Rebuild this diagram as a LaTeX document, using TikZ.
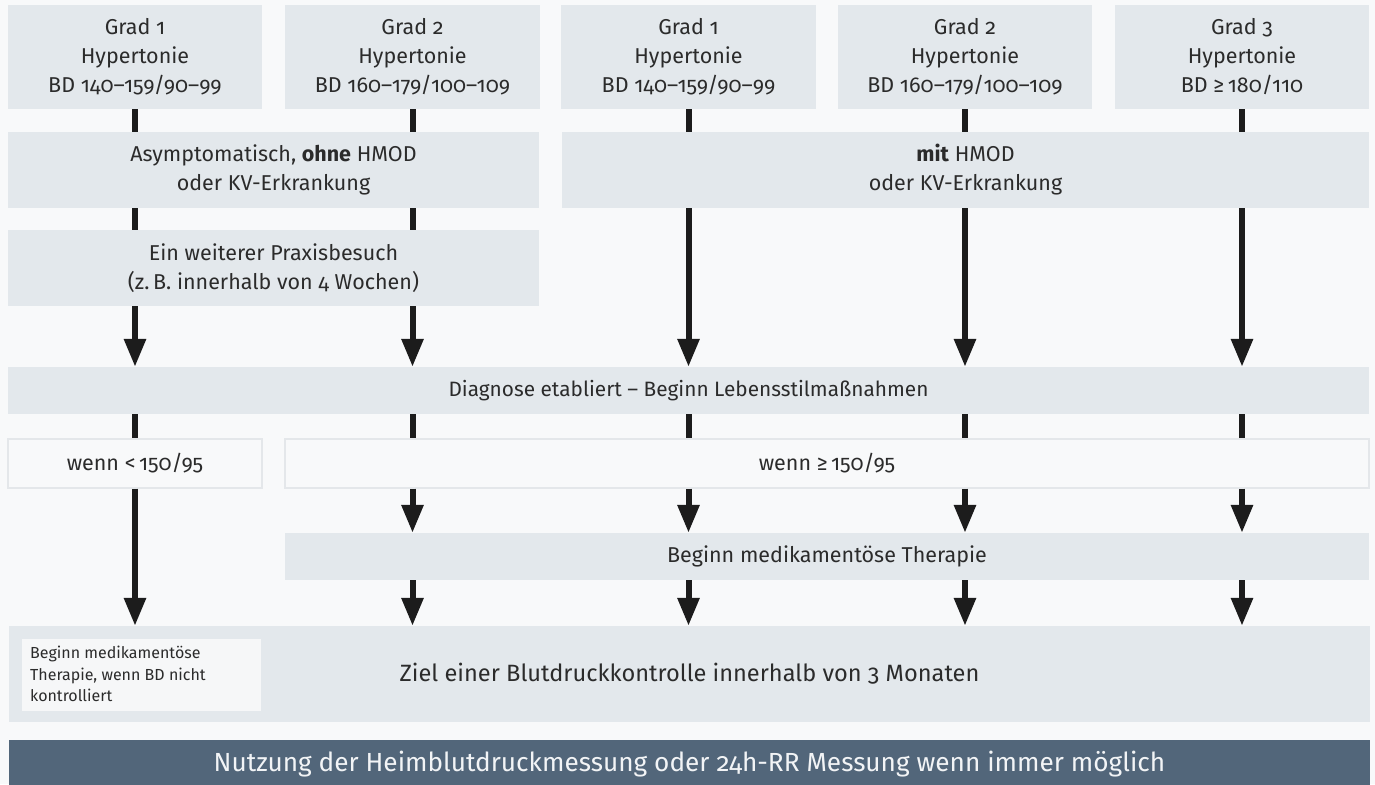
\documentclass[tikz,border=0pt]{standalone}
\usepackage{fontspec}
\setmainfont{Fira Sans}[Numbers=OldStyle]
\usetikzlibrary{arrows.meta}
\definecolor{bgc}{HTML}{F8F9FA}
\definecolor{boxc}{HTML}{E3E8EC}
\definecolor{linec}{HTML}{E4E7EA}
\definecolor{innerc}{HTML}{F6F7F8}
\definecolor{darkc}{HTML}{52667A}
\definecolor{txtc}{HTML}{2B2B2B}
\definecolor{arrc}{HTML}{1C1C1C}
\definecolor{bartxt}{HTML}{F2F4F6}
\tikzset{
  box/.style={fill=boxc, draw=none, inner sep=0pt, align=center, text=txtc,
    font=\fontsize{21.5}{29}\selectfont},
  plainbox/.style={fill=bgc, draw=linec, line width=1.2pt, inner sep=0pt, align=center, text=txtc,
    font=\fontsize{21.5}{29}\selectfont},
  stub/.style={line width=6pt, draw=arrc},
  arrow/.style={line width=6pt, draw=arrc, -{Triangle[width=21pt,length=28pt]}},
}
\begin{document}
\begin{tikzpicture}[x=1pt,y=-1pt]
\useasboundingbox[fill=bgc] (0,0) rectangle (1375,784);
% top row
\node[box, minimum width=254pt, minimum height=104pt] (t1) at (135,57) {Grad 1\\Hypertonie\\BD 140–159/90–99};
\node[box, minimum width=255pt, minimum height=104pt] (t2) at (412.5,57) {Grad 2\\Hypertonie\\BD 160–179/100–109};
\node[box, minimum width=255pt, minimum height=104pt] (t3) at (688.5,57) {Grad 1\\Hypertonie\\BD 140–159/90–99};
\node[box, minimum width=254pt, minimum height=104pt] (t4) at (965,57) {Grad 2\\Hypertonie\\BD 160–179/100–109};
\node[box, minimum width=254pt, minimum height=104pt] (t5) at (1242,57) {Grad 3\\Hypertonie\\BD ≥\,180/110};
% second row
\node[box, minimum width=531pt, minimum height=76pt] (asym) at (273.5,170) {Asymptomatisch, \textbf{ohne} HMOD\\oder KV-Erkrankung};
\node[box, minimum width=807pt, minimum height=76pt] (mit) at (965.5,170) {\textbf{mit} HMOD\\oder KV-Erkrankung};
% third row
\node[box, minimum width=531pt, minimum height=76pt] (praxis) at (273.5,268) {Ein weiterer Praxisbesuch\\(z.\,B. innerhalb von 4 Wochen)};
% diagnose
\node[box, minimum width=1361pt, minimum height=47pt, font=\fontsize{20.8}{26}\selectfont] (diag) at (688.5,390.5) {Diagnose etabliert – Beginn Lebensstilmaßnahmen};
% wenn
\node[plainbox, minimum width=254pt, minimum height=49pt] (wl) at (135,463.5) {wenn <\,150/95};
\node[plainbox, minimum width=1084pt, minimum height=49pt] (wg) at (827,463.5) {wenn ≥\,150/95};
% beginn med
\node[box, minimum width=1084pt, minimum height=47pt] (med) at (827,556.5) {Beginn medikamentöse Therapie};
% ziel
\node[box, minimum width=1361pt, minimum height=96pt, font=\fontsize{23.6}{28}\selectfont] (ziel) at (689.5,674) {Ziel einer Blutdruckkontrolle innerhalb von 3 Monaten};
\node[fill=innerc, inner sep=0pt, minimum width=239pt, minimum height=72pt, text=txtc] (inner) at (141.5,675) {};
\node[anchor=north west, inner sep=0pt, align=left, text=txtc, font=\fontsize{16}{21.5}\selectfont] (innertxt) at (30,646) {Beginn medikamentöse\\Therapie, wenn BD nicht\\kontrolliert};
% bottom bar
\node[fill=darkc, inner sep=0pt, minimum width=1361pt, minimum height=48pt, text=bartxt, font=\fontsize{26.2}{30}\selectfont] (bar) at (689.5,764) {Nutzung der Heimblutdruckmessung oder 24h-RR Messung wenn immer möglich};
% connectors
\draw[stub] (t1.south) -- (t1.south |- asym.north);
\draw[stub] (t2.south) -- (t2.south |- asym.north);
\draw[stub] (t3.south) -- (t3.south |- mit.north);
\draw[stub] (t4.south) -- (t4.south |- mit.north);
\draw[stub] (t5.south) -- (t5.south |- mit.north);
\draw[stub] (t1.south |- asym.south) -- (t1.south |- praxis.north);
\draw[stub] (t2.south |- asym.south) -- (t2.south |- praxis.north);
\draw[arrow] (t1.south |- praxis.south) -- (t1.south |- diag.north);
\draw[arrow] (t2.south |- praxis.south) -- (t2.south |- diag.north);
\draw[arrow] (t3.south |- mit.south) -- (t3.south |- diag.north);
\draw[arrow] (t4.south |- mit.south) -- (t4.south |- diag.north);
\draw[arrow] (t5.south |- mit.south) -- (t5.south |- diag.north);
\draw[stub] (t1.south |- diag.south) -- (t1.south |- wl.north);
\foreach \t in {t2,t3,t4,t5} {
  \draw[stub] (\t.south |- diag.south) -- (\t.south |- wg.north);
  \draw[arrow] (\t.south |- wg.south) -- (\t.south |- med.north);
  \draw[arrow] (\t.south |- med.south) -- (\t.south |- ziel.north);
}
\draw[arrow] (t1.south |- wl.south) -- (t1.south |- ziel.north);
\end{tikzpicture}
\end{document}
